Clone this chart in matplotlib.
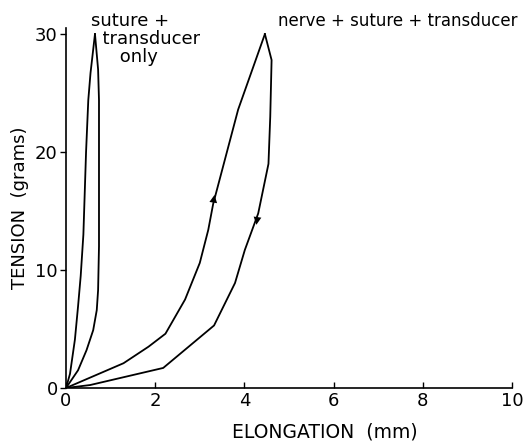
import numpy as np
import matplotlib
matplotlib.use("Agg")
from matplotlib import pyplot as plt

# suture + transducer only (loading up, unloading down)
suture_load_x = [0, 0.09, 0.20, 0.27, 0.33, 0.39, 0.45, 0.50, 0.55, 0.65]
suture_load_y = [0, 1.2, 4.1, 6.9, 9.5, 13.0, 20.0, 24.4, 26.7, 30.0]
suture_unload_x = [0.65, 0.72, 0.74, 0.74, 0.72, 0.69, 0.61, 0.46, 0.27, 0]
suture_unload_y = [30.0, 27.0, 24.4, 12.0, 8.3, 6.6, 4.9, 3.2, 1.5, 0]

# nerve + suture + transducer
nerve_load_x = [0, 1.29, 1.85, 2.23, 2.67, 3.00, 3.19, 3.30, 3.86, 4.46]
nerve_load_y = [0, 2.1, 3.5, 4.6, 7.5, 10.6, 13.4, 15.6, 23.6, 30.0]
nerve_unload_x = [4.46, 4.61, 4.58, 4.54, 4.31, 4.01, 3.79, 3.32, 2.18, 0.54, 0]
nerve_unload_y = [30.0, 27.8, 23.0, 19.0, 14.8, 11.7, 8.9, 5.3, 1.7, 0.25, 0]

fig = plt.figure(figsize=(5.30, 4.47), dpi=100)
ax = fig.add_axes([0.1245, 0.132, 0.8415, 0.805])

lw = 1.3
ax.plot(suture_load_x, suture_load_y, color="black", lw=lw)
ax.plot(suture_unload_x, suture_unload_y, color="black", lw=lw)
ax.plot(nerve_load_x, nerve_load_y, color="black", lw=lw)
ax.plot(nerve_unload_x, nerve_unload_y, color="black", lw=lw)

# direction arrows on the nerve loop
ax.annotate("", xy=(3.34, 16.6), xytext=(3.22, 13.8),
            arrowprops=dict(arrowstyle="-|>", color="black", lw=0, mutation_scale=14))
ax.annotate("", xy=(4.26, 13.6), xytext=(4.36, 16.2),
            arrowprops=dict(arrowstyle="-|>", color="black", lw=0, mutation_scale=14))

ax.set_xlim(0, 10)
ax.set_ylim(0, 30.5)
ax.set_xticks([0, 2, 4, 6, 8, 10])
ax.set_yticks([0, 10, 20, 30])
ax.spines["top"].set_visible(False)
ax.spines["right"].set_visible(False)
ax.spines["left"].set_linewidth(1.2)
ax.spines["bottom"].set_linewidth(1.2)
ax.tick_params(axis="x", direction="in", length=4, width=1.0, labelsize=13, pad=3)
ax.tick_params(axis="y", direction="out", length=4, width=1.0, labelsize=13, pad=2)

ax.set_xlabel("ELONGATION  (mm)", fontsize=13.5)
ax.xaxis.set_label_coords(0.58, -0.095)
ax.set_ylabel("TENSION  (grams)", fontsize=13)
ax.yaxis.set_label_coords(-0.082, 0.5)

ax.text(0.55, 31.9, "suture +\n  transducer\n     only", fontsize=13, va="top", ha="left",
        linespacing=1.02)
ax.text(4.75, 31.9, "nerve + suture + transducer", fontsize=12, va="top", ha="left")

plt.savefig("out.png", dpi=100)
